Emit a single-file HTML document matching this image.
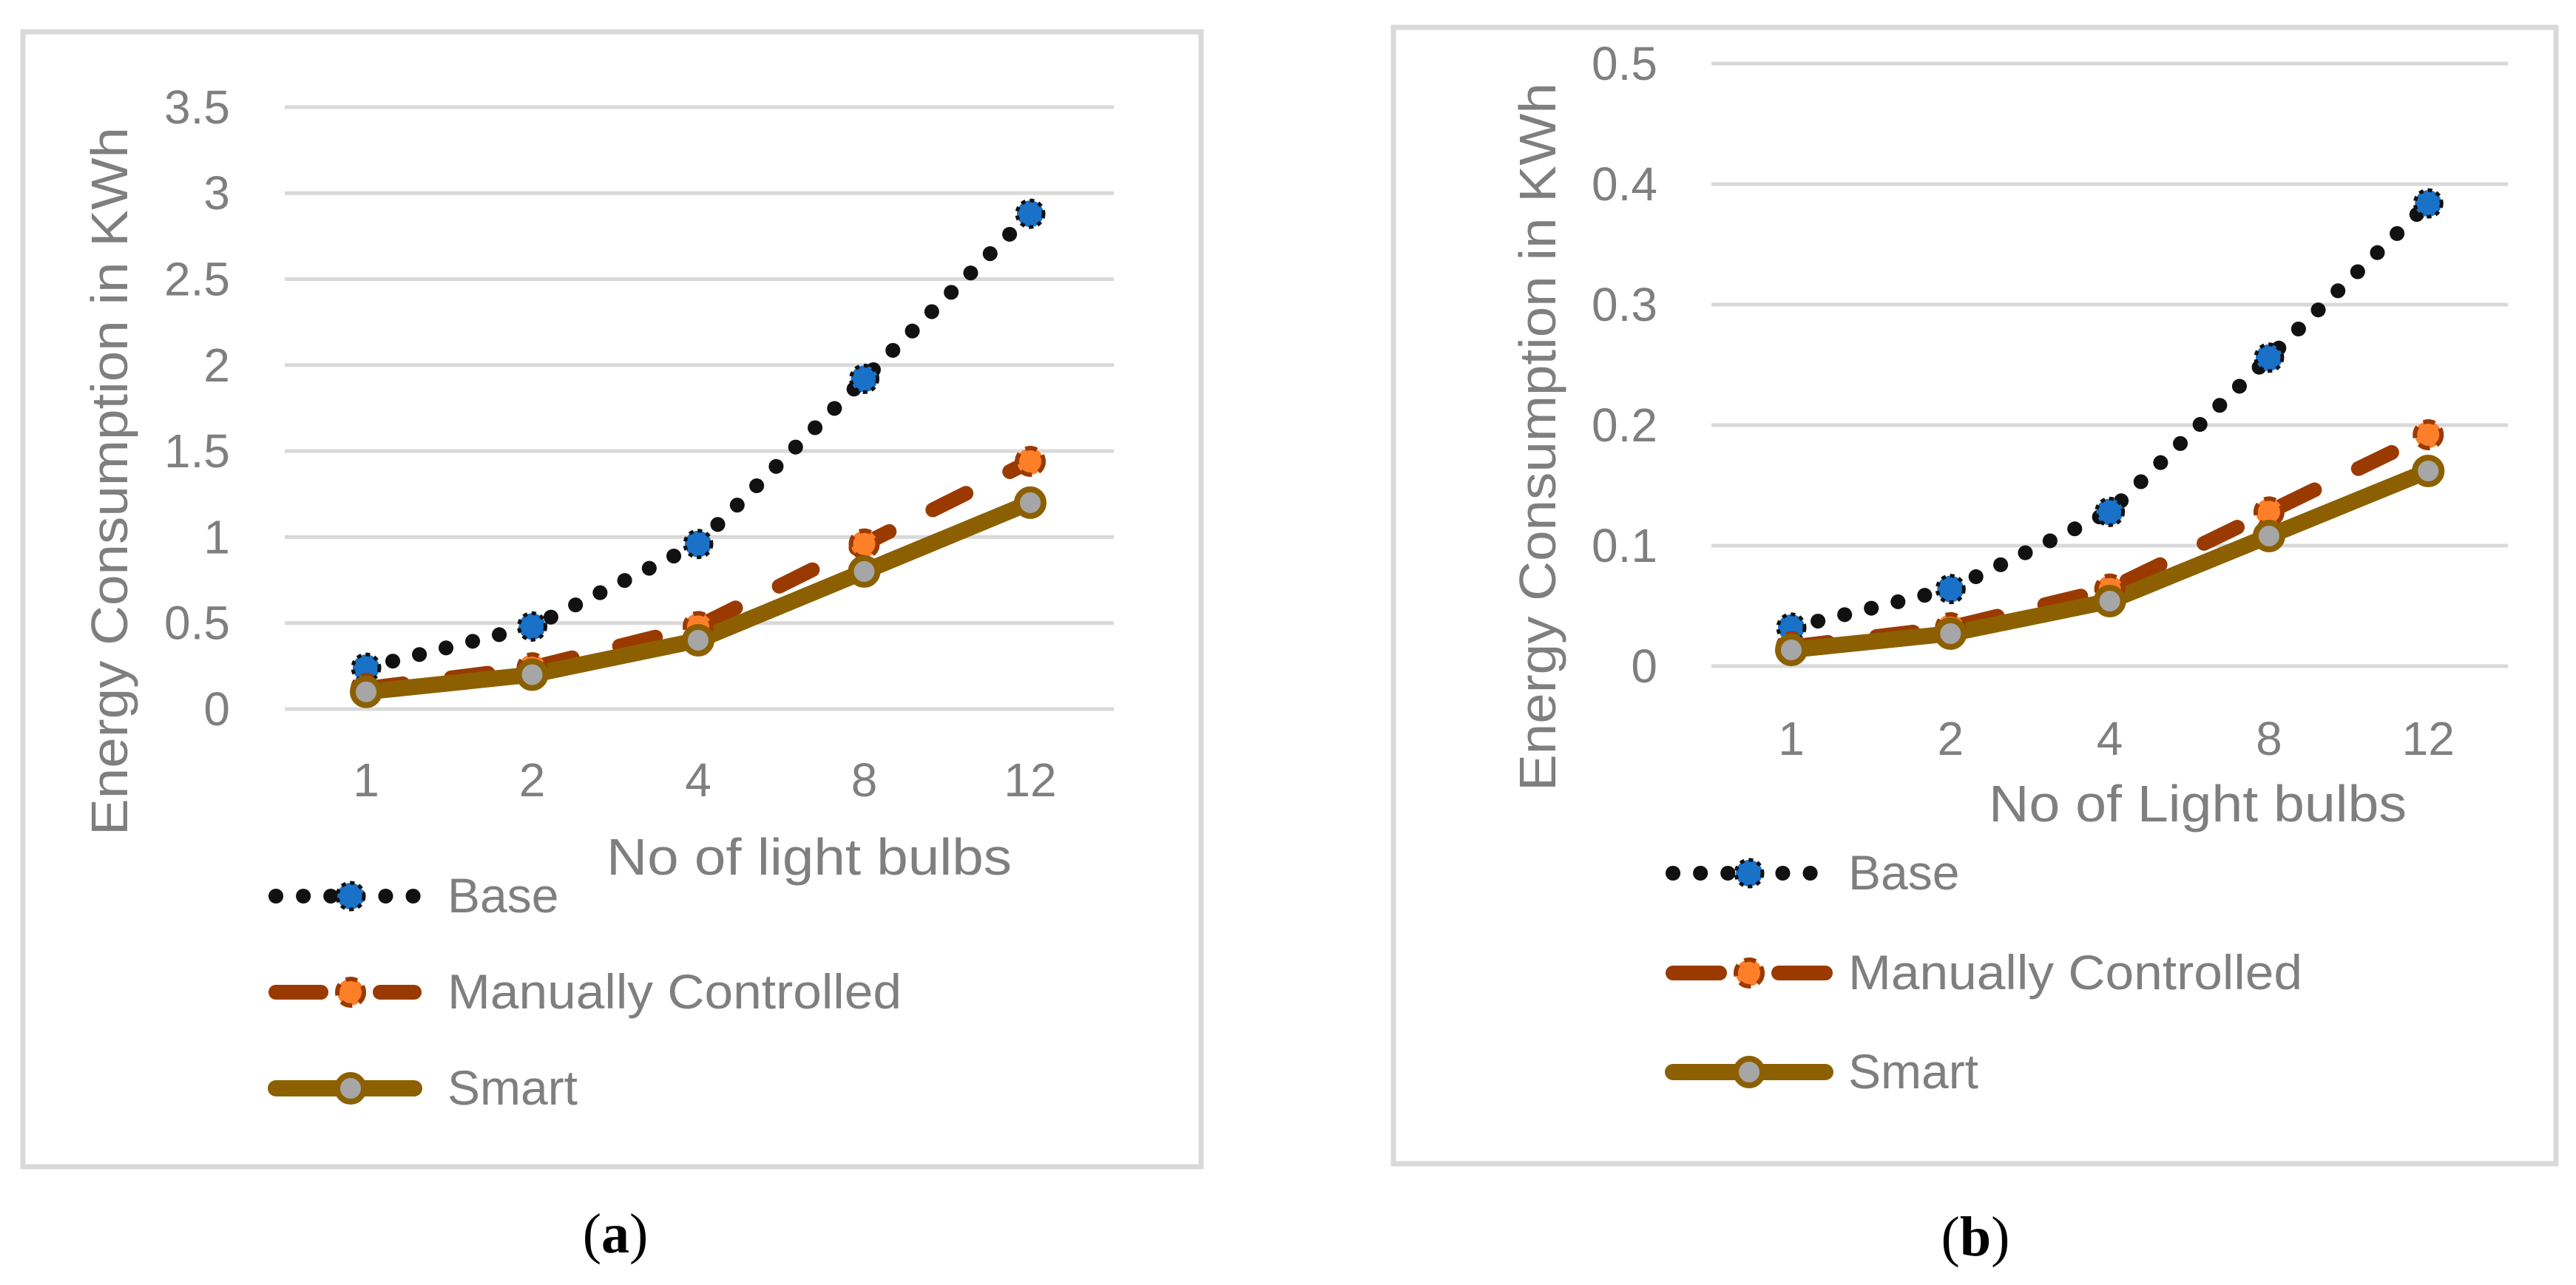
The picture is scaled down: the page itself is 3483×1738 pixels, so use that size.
<!DOCTYPE html>
<html><head><meta charset="utf-8">
<style>
html,body{margin:0;padding:0;background:#fff;}
svg{display:block;}
text{font-family:"Liberation Sans",sans-serif;fill:#7f7f7f;}
.cap{font-family:"Liberation Serif",serif;fill:#000;}
</style></head>
<body>
<svg id="fig" width="3483" height="1738" viewBox="0 0 3483 1738" xmlns="http://www.w3.org/2000/svg">
  <rect x="0" y="0" width="3483" height="1738" fill="#fff"/>
  <g id="panelA"></g>
  <g id="panelB"></g>
</svg>
<script>
const categories = ["1", "2", "4", "8", "12"];
const baseA = [0.24, 0.48, 0.96, 1.92, 2.88];
const manualA = [0.12, 0.24, 0.48, 0.96, 1.44];
const smartA = [0.10, 0.20, 0.40, 0.80, 1.20];
const ticksA = [0, 0.5, 1, 1.5, 2, 2.5, 3, 3.5];
const tickLabelsA = ["0", "0.5", "1", "1.5", "2", "2.5", "3", "3.5"];
const baseB = [0.032, 0.064, 0.128, 0.256, 0.384];
const manualB = [0.016, 0.032, 0.064, 0.128, 0.192];
const smartB = [0.0135, 0.027, 0.054, 0.108, 0.162];
const ticksB = [0, 0.1, 0.2, 0.3, 0.4, 0.5];
const tickLabelsB = ["0", "0.1", "0.2", "0.3", "0.4", "0.5"];
const seriesNames = ["Base", "Manually Controlled", "Smart"];

const NS = "http://www.w3.org/2000/svg";
function mk(tag, attrs, parent) {
  const e = document.createElementNS(NS, tag);
  for (const k in attrs) e.setAttribute(k, attrs[k]);
  parent.appendChild(e);
  return e;
}

const styles = [
  {line:{stroke:"#111", "stroke-width":20, "stroke-linecap":"round", "stroke-dasharray":"0.1 37", fill:"none"},
   mFill:"#1a72c8", mStroke:"#111", mDash:"6 6", mW:5},
  {line:{stroke:"#9a3a00", "stroke-width":20, "stroke-linecap":"round", "stroke-dasharray":"50 66", fill:"none"},
   mFill:"#fd7f28", mStroke:"#9a3a00", mDash:"16 10", mW:6},
  {line:{stroke:"#8c6000", "stroke-width":22, "stroke-linecap":"round", "stroke-linejoin":"round", fill:"none"},
   mFill:"#a6a6a6", mStroke:"#8c6000", mDash:"", mW:8}
];

function drawPanel(g, cfg) {
  const yScale = v => cfg.y0 - (v / cfg.step) * cfg.stepPx;
  const xScale = i => cfg.x0 + i * cfg.dx;

  const frame = mk("rect", {x:cfg.fx, y:cfg.fy, width:cfg.fw, height:cfg.fh, fill:"none", stroke:"#d9d9d9", "stroke-width":7}, g);
  
  

  cfg.ticks.forEach((t, i) => {
    const y = yScale(t);
    const gl = mk("line", {x1:cfg.gx1, x2:cfg.gx2, y1:y, y2:y, stroke:"#d9d9d9", "stroke-width":5}, g);
    
    
    const tl = mk("text", {x:cfg.ylabX, y:y + 22, "text-anchor":"end", "font-size":64}, g);
    tl.textContent = cfg.tickLabels[i];
    
    
  });

  categories.forEach((c, i) => {
    const tl = mk("text", {x:xScale(i), y:cfg.xlabY, "text-anchor":"middle", "font-size":64}, g);
    tl.textContent = c;
    
    
  });

  const yt = mk("text", {x:0, y:0, "text-anchor":"middle", "font-size":70,
    transform:`translate(${cfg.ytX},${cfg.ytY}) rotate(-90)`, textLength:cfg.ytLen, lengthAdjust:"spacingAndGlyphs"}, g);
  yt.textContent = "Energy Consumption in KWh";
  
  

  const xt = mk("text", {x:cfg.xtX, y:cfg.xtY, "font-size":70, textLength:cfg.xtLen, lengthAdjust:"spacingAndGlyphs"}, g);
  xt.textContent = cfg.xTitle;
  
  

  const names = ['series-base', 'series-manual', 'series-smart'];
  cfg.series.forEach((vals, s) => {
    const st = styles[s];
    const pts = vals.map((v, i) => xScale(i) + "," + yScale(v)).join(" ");
    const pl = mk("polyline", Object.assign({points:pts}, st.line), g);
    
    
  });
  cfg.series.forEach((vals, s) => {
    const st = styles[s];
    vals.forEach((v, i) => {
      const m = mk("circle", {cx:xScale(i), cy:yScale(v), r:18, fill:st.mFill, stroke:st.mStroke, "stroke-width":st.mW}, g);
      if (st.mDash) m.setAttribute("stroke-dasharray", st.mDash);
      
      
    });
  });

  seriesNames.forEach((n, s) => {
    const st = styles[s];
    const y = cfg.legY[s];
    const lg = mk("g", {}, g);
    
    
    let ll;
    if (s === 1) {
      ll = mk("path", {d:`M${cfg.legX1+10},${y}H${cfg.legM-40}M${cfg.legM+40},${y}H${cfg.legX2-10}`, stroke:"#9a3a00", "stroke-width":20, "stroke-linecap":"round", fill:"none"}, lg);
    } else {
      ll = mk("line", Object.assign({x1:cfg.legX1 + 10, x2:cfg.legX2 - 10, y1:y, y2:y}, st.line), lg);
    }
    
    
    const m = mk("circle", {cx:cfg.legM, cy:y, r:18, fill:st.mFill, stroke:st.mStroke, "stroke-width":st.mW}, lg);
    if (st.mDash) m.setAttribute("stroke-dasharray", st.mDash);
    
    
    const t = mk("text", {x:cfg.legTX, y:y + 22, "font-size":66}, lg);
    if (s === 1) { t.setAttribute("textLength", cfg.manLen); t.setAttribute("lengthAdjust", "spacingAndGlyphs"); }
    t.textContent = n;
    
    
  });

  const cap = mk("text", {x:cfg.capX, y:cfg.capY, "text-anchor":"middle", "font-size":76, class:"cap"}, g);
  cap.innerHTML = `(<tspan font-weight="bold">${cfg.capLetter}</tspan>)`;
  
  
}

drawPanel(document.getElementById("panelA"), {
  fx:31, fy:43, fw:1593, fh:1535,
  gx1:385, gx2:1506, y0:959, step:0.5, stepPx:116.3,
  x0:495, dx:224.5,
  ticks:ticksA, tickLabels:tickLabelsA, ylabX:311, xlabY:1077,
  ytX:172, ytY:651, ytLen:958,
  xTitle:"No of light bulbs", xtX:820, xtY:1183, xtLen:548,
  series:[baseA, manualA, smartA],
  legX1:363, legX2:570, legM:474, legY:[1212, 1342, 1472], legTX:605, manLen:614,
  capX:832, capY:1694, capLetter:"a"
});

drawPanel(document.getElementById("panelB"), {
  fx:1884, fy:37, fw:1572, fh:1537,
  gx1:2314, gx2:3391, y0:901, step:0.1, stepPx:163,
  x0:2422, dx:215.3,
  ticks:ticksB, tickLabels:tickLabelsB, ylabX:2241, xlabY:1021,
  ytX:2103, ytY:591, ytLen:958,
  xTitle:"No of Light bulbs", xtX:2689, xtY:1111, xtLen:565,
  series:[baseB, manualB, smartB],
  legX1:2252, legX2:2478, legM:2365, legY:[1181, 1316, 1450], legTX:2499, manLen:614,
  capX:2671, capY:1698, capLetter:"b"
});
</script>
</body></html>
